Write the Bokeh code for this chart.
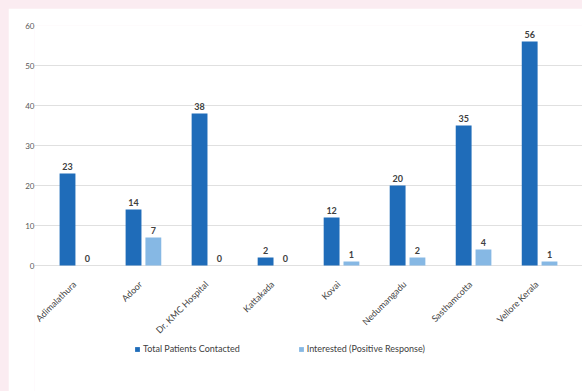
import math
from bokeh.plotting import figure
from bokeh.models import ColumnDataSource, Range1d, Legend, LegendItem, FactorRange
from bokeh.transform import dodge
from bokeh.core.properties import value
from bokeh.embed import file_html
from bokeh.resources import INLINE

locations = ["Adimalathura", "Adoor", "Dr. KMC Hospital", "Kattakada", "Kovai",
             "Nedumangadu", "Sasthamcotta", "Vellore Kerala"]
total_contacted = [23, 14, 38, 2, 12, 20, 35, 56]
interested = [0, 7, 0, 0, 1, 2, 4, 1]
y_ticks = [0, 10, 20, 30, 40, 50, 60]

DARK = "#1f6cb9"
LIGHT = "#86b8e4"
FONT = "Lato"

src = ColumnDataSource(dict(
    loc=locations,
    total=total_contacted,
    inter=interested,
    total_lbl=[str(v) for v in total_contacted],
    inter_lbl=[str(v) for v in interested],
))

# frame runs from the top gridline down to the figure bottom; the area below 0
# holds the rotated category labels and the legend
p = figure(x_range=FactorRange(*locations), y_range=Range1d(-31.5, 60),
           width=574, height=383, output_backend="svg", toolbar_location=None,
           min_border_left=26, min_border_right=0, min_border_top=17,
           min_border_bottom=0)
p.background_fill_color = "white"
p.border_fill_color = "white"
p.outline_line_color = None

r1 = p.vbar(x=dodge("loc", -0.15, range=p.x_range), top="total", width=0.24,
            source=src, fill_color=DARK, line_color=None)
r2 = p.vbar(x=dodge("loc", 0.15, range=p.x_range), top="inter", width=0.24,
            source=src, fill_color=LIGHT, line_color=None)

p.text(x=dodge("loc", -0.15, range=p.x_range), y="total", text="total_lbl",
       source=src, text_align="center", text_baseline="bottom", y_offset=-4,
       text_font=value(FONT), text_font_size="9px", text_font_style="bold",
       text_color="#404040")
p.text(x=dodge("loc", 0.15, range=p.x_range), y="inter", text="inter_lbl",
       source=src, text_align="center", text_baseline="bottom", y_offset=-4,
       text_font=value(FONT), text_font_size="9px", text_font_style="bold",
       text_color="#404040")

# category labels, rotated 45 degrees below the baseline
p.text(x="loc", y=0, text="loc", source=src, angle=math.pi / 4,
       text_align="right", text_baseline="middle", x_offset=-3, y_offset=17,
       text_font=value(FONT), text_font_size="9px", text_color="#404040")

p.xgrid.grid_line_color = None
p.ygrid.grid_line_color = "#e0e0e0"
p.ygrid.grid_line_width = 1
p.ygrid.ticker = y_ticks

p.yaxis.ticker = y_ticks
p.yaxis.axis_line_color = None
p.yaxis.major_tick_line_color = None
p.yaxis.minor_tick_line_color = None
p.yaxis.major_tick_out = 0
p.yaxis.major_tick_in = 0
p.yaxis.major_label_standoff = 0
p.yaxis.major_label_text_font = FONT
p.yaxis.major_label_text_font_size = "8px"
p.yaxis.major_label_text_color = "#595959"

p.xaxis.visible = False
p.x_range.range_padding = 0.0375
p.x_range.range_padding_units = "percent"
p.x_range.group_padding = 0

legend = Legend(items=[LegendItem(label="Total Patients Contacted", renderers=[r1]),
                       LegendItem(label="Interested (Positive Response)", renderers=[r2])],
                orientation="horizontal", location=(100, 37),
                label_text_font=FONT, label_text_font_size="9px",
                label_text_color="#404040", glyph_width=6, glyph_height=6,
                spacing=58, border_line_color=None, background_fill_alpha=0,
                margin=0, padding=2, label_standoff=3)
p.add_layout(legend, "center")

html = file_html(p, INLINE)
i = html.rfind("<body")
html = (html[:i] +
        '<body style="background:#fbecf1;overflow:hidden;margin:0;padding:8px 0 0 8px"' +
        html[i + 5:])
open("out.html", "w").write(html)
